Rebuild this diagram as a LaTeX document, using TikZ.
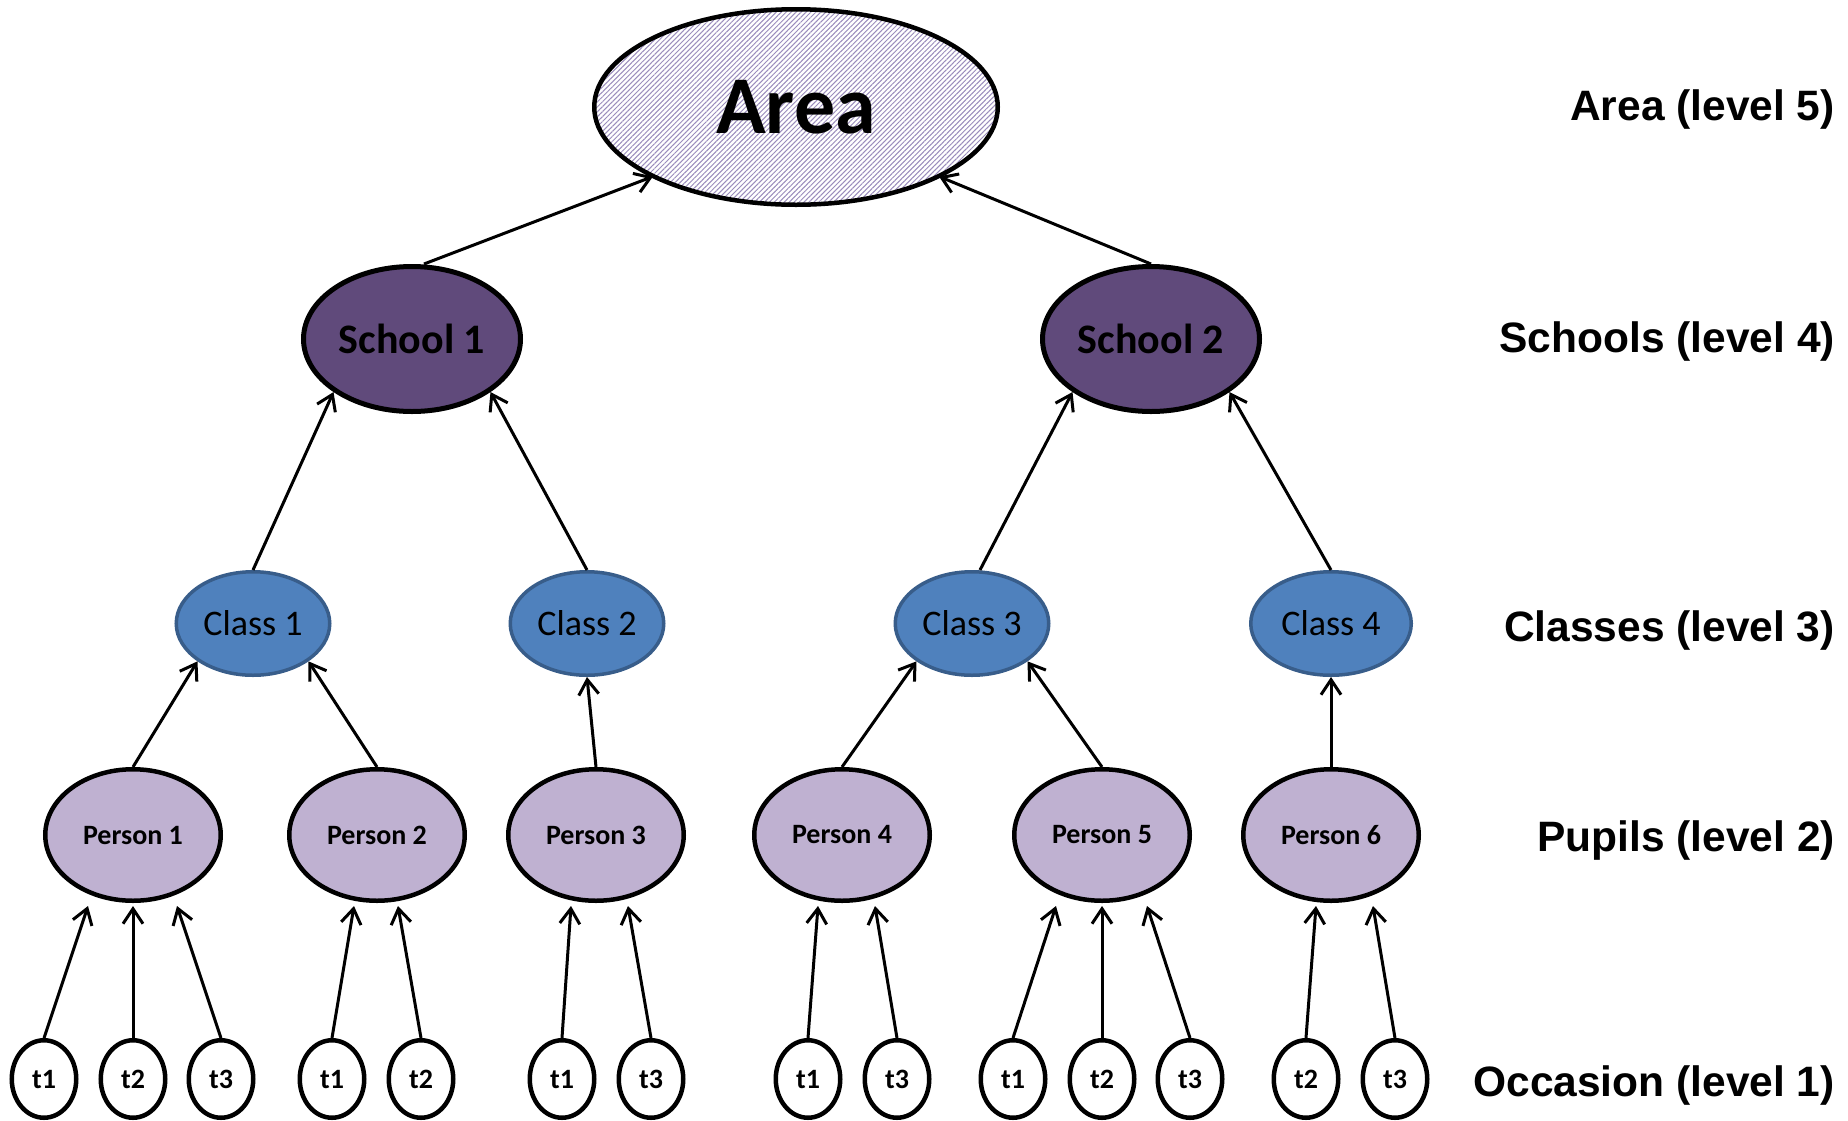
\documentclass[tikz,border=0pt]{standalone}
\usepackage{fontspec}
\setmainfont{Carlito}
\newfontfamily\arialfont{Liberation Sans}
\usetikzlibrary{arrows.meta,patterns.meta,shapes.geometric,calc}
\definecolor{schoolfill}{HTML}{604A7B}
\definecolor{classfill}{HTML}{4F81BD}
\definecolor{classdraw}{HTML}{385D8A}
\definecolor{personfill}{HTML}{BFB1D1}
\definecolor{hatchcol}{HTML}{9A8CBC}
\begin{document}
\begin{tikzpicture}[x=1pt,y=-1pt,
  areabox/.style={ellipse, draw, line width=4.5pt, minimum width=403.5pt, minimum height=195.5pt, inner sep=0pt,
    pattern={Lines[angle=45,distance=3.5pt,line width=1pt]}, pattern color=hatchcol,
    font=\fontsize{82}{90}\selectfont\bfseries},
  schoolbox/.style={ellipse, draw, line width=5pt, fill=schoolfill, minimum width=217pt, minimum height=145pt,
    inner sep=0pt, font=\fontsize{42}{48}\selectfont\bfseries},
  classbox/.style={ellipse, draw=classdraw, line width=3.5pt, fill=classfill, minimum width=153.5pt, minimum height=103.5pt,
    inner sep=0pt, font=\fontsize{36}{42}\selectfont},
  personbox/.style={ellipse, draw, line width=4.5pt, fill=personfill, minimum width=175.5pt, minimum height=131.5pt,
    inner sep=0pt, font=\fontsize{28}{32}\selectfont\bfseries},
  tbox/.style={ellipse, draw, line width=4.5pt, fill=white, minimum width=64.5pt, minimum height=77.5pt,
    inner sep=0pt, font=\fontsize{28}{32}\selectfont\bfseries},
  lvl/.style={anchor=base east, inner sep=0pt, font=\arialfont\fontsize{42.5}{48}\selectfont\bfseries},
  arr/.style={line width=3pt, -{Straight Barb[length=15pt,width=20pt]}}
]
\fill[white] (0,0) rectangle (1848,1120);
\useasboundingbox (0,0) rectangle (1848,1120);

% nodes
\node[areabox] (area) at (796,107) {Area};
\node[schoolbox] (s1) at (412,339) {School 1};
\node[schoolbox] (s2) at (1151,339) {School 2};
\node[classbox] (c1) at (253,623.5) {Class 1};
\node[classbox] (c2) at (587,623.5) {Class 2};
\node[classbox] (c3) at (972,623.5) {Class 3};
\node[classbox, minimum width=160.5pt] (c4) at (1331,623.5) {Class 4};
\node[personbox] (p1) at (133,835) {Person 1};
\node[personbox] (p2) at (377,835) {Person 2};
\node[personbox] (p3) at (596,835) {Person 3};
\node[personbox] (p4) at (842,835) {Person 4};
\node[personbox] (p5) at (1102,835) {Person 5};
\node[personbox] (p6) at (1331,835) {Person 6};

\node[tbox] (ta) at (44,1079) {t1};
\node[tbox] (tb) at (133,1079) {t2};
\node[tbox] (tc) at (221,1079) {t3};
\node[tbox] (td) at (332,1079) {t1};
\node[tbox] (te) at (421,1079) {t2};
\node[tbox] (tf) at (562,1079) {t1};
\node[tbox] (tg) at (651,1079) {t3};
\node[tbox] (th) at (808,1079) {t1};
\node[tbox] (ti) at (897,1079) {t3};
\node[tbox] (tj) at (1013,1079) {t1};
\node[tbox] (tk) at (1102,1079) {t2};
\node[tbox] (tl) at (1190,1079) {t3};
\node[tbox] (tm) at (1306,1079) {t2};
\node[tbox] (tn) at (1395,1079) {t3};

% level labels
\node[lvl] (l5) at (1835,120) {Area (level 5)};
\node[lvl] (l4) at (1835,352) {Schools (level 4)};
\node[lvl] (l3) at (1835,641) {Classes (level 3)};
\node[lvl] (l2) at (1835,851) {Pupils (level 2)};
\node[lvl] (l1) at (1835,1096) {Occasion (level 1)};

% connectors
\draw[arr] ($(s1.north)+(12,0)$) -- (area.south west);
\draw[arr] (s2.north) -- (area.south east);
\draw[arr] (c1.north) -- (s1.south west);
\draw[arr] (c2.north) -- (s1.south east);
\draw[arr] ($(c3.north)+(8,0)$) -- (s2.south west);
\draw[arr] (c4.north) -- (s2.south east);
\draw[arr] (p1.north) -- (c1.south west);
\draw[arr] (p2.north) -- (c1.south east);
\draw[arr] (p3.north) -- (c2.south);
\draw[arr] (p4.north) -- (c3.south west);
\draw[arr] (p5.north) -- (c3.south east);
\draw[arr] (p6.north) -- (c4.south);

\draw[arr] (ta.north) -- ($(p1.south)+(-45,3)$);
\draw[arr] (tb.north) -- ($(p1.south)+(0,3)$);
\draw[arr] (tc.north) -- ($(p1.south)+(44,3)$);
\draw[arr] (td.north) -- ($(p2.south)+(-23,3)$);
\draw[arr] (te.north) -- ($(p2.south)+(21,3)$);
\draw[arr] (tf.north) -- ($(p3.south)+(-25,3)$);
\draw[arr] (tg.north) -- ($(p3.south)+(32,3)$);
\draw[arr] (th.north) -- ($(p4.south)+(-24,3)$);
\draw[arr] (ti.north) -- ($(p4.south)+(33,3)$);
\draw[arr] (tj.north) -- ($(p5.south)+(-46,3)$);
\draw[arr] (tk.north) -- ($(p5.south)+(0,3)$);
\draw[arr] (tl.north) -- ($(p5.south)+(45,3)$);
\draw[arr] (tm.north) -- ($(p6.south)+(-15,3)$);
\draw[arr] (tn.north) -- ($(p6.south)+(42,3)$);
\end{tikzpicture}
\end{document}
